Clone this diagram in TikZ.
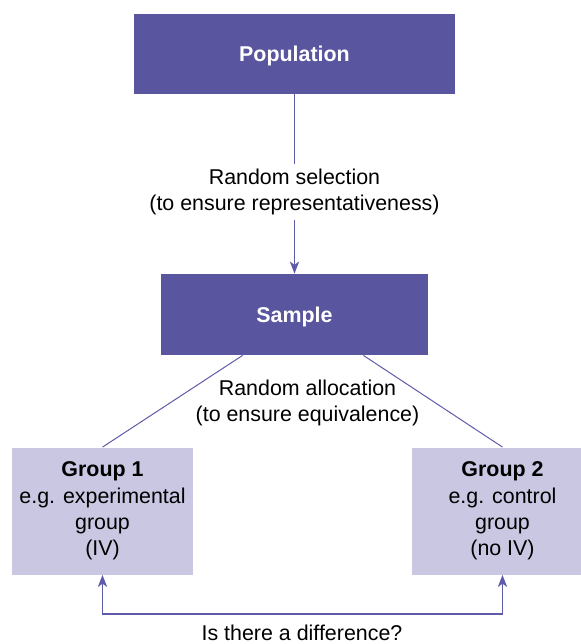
\documentclass[tikz,border=0pt]{standalone}
\usepackage{fontspec}
\setmainfont{Liberation Sans}
\usetikzlibrary{arrows.meta,calc}
\definecolor{boxdark}{RGB}{89,86,159}
\definecolor{boxlight}{RGB}{201,199,225}
\definecolor{linkcol}{RGB}{94,91,168}
\begin{document}
\begin{tikzpicture}[x=0.5pt,y=-0.5pt,
  txt/.style={font=\fontsize{10.7}{13.1}\selectfont, text=black, align=center},
  darkbox/.style={fill=boxdark, text=white, inner sep=0pt, text depth=0pt,
    font=\fontsize{10.7}{13.1}\selectfont\bfseries},
  lightbox/.style={fill=boxlight, inner sep=0pt, align=center,
    minimum width=90.5pt, minimum height=63.5pt,
    font=\fontsize{10.7}{13.1}\selectfont},
  link/.style={draw=linkcol, line width=0.75pt},
  thinlink/.style={draw=linkcol, line width=0.5pt},
  tipend/.style={-{Stealth[length=6pt,width=4.6pt,inset=1.6pt]}},
  tipboth/.style={{Stealth[length=6pt,width=4.6pt,inset=1.6pt]}-{Stealth[length=6pt,width=4.6pt,inset=1.6pt]}}]
\useasboundingbox (0,0) rectangle (580,644);

% boxes
\node[darkbox, minimum width=160.5pt, minimum height=40pt] (pop) at (294.5,53.5) {Population};
\node[darkbox, minimum width=133.5pt, minimum height=40.5pt] (sample) at (294.5,314.5) {Sample};
\node[lightbox] (g1) at (102.5,511) {\textbf{Group 1}\\e.g. experimental\\group\\(IV)};
\node[lightbox] (g2) at (502.5,511) {\textbf{Group 2}\\e.g. control\\group\\(no IV)};

% random selection
\draw[link, tipend] (pop) -- node[txt, pos=0.545, fill=white, inner sep=2.5pt]
  {Random selection\\(to ensure representativeness)} (sample);

% random allocation
\coordinate (sl) at ($(sample.south west)+(82,0)$);
\coordinate (sr) at ($(sample.south east)+(-65,0)$);
\draw[thinlink] (sl) -- (g1.north);
\draw[thinlink] (sr) -- (g2.north);
\node[txt] (alloc) at (307.5,403) {Random allocation\\(to ensure equivalence)};

% comparison between groups
\coordinate (base) at (302,614);
\draw[link, tipboth] (g1.south) -- (g1.south |- base) -- (g2.south |- base) -- (g2.south);
\node[txt] (diff) at (302,633) {Is there a difference?};
\end{tikzpicture}
\end{document}
